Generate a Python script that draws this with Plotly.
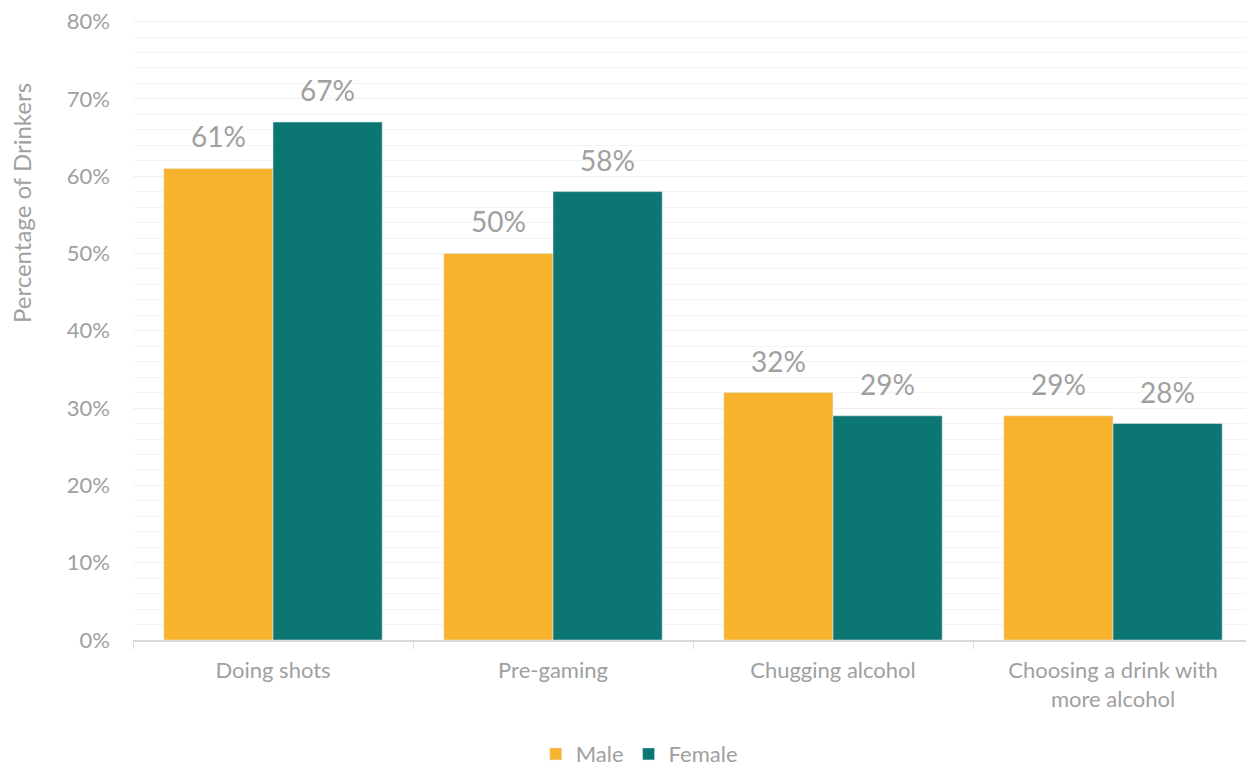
import plotly.graph_objects as go

categories = ["Doing shots", "Pre-gaming", "Chugging alcohol", "Choosing a drink with<br>more alcohol"]
male = [0.61, 0.50, 0.32, 0.29]
female = [0.67, 0.58, 0.29, 0.28]
male_labels = ["61%", "50%", "32%", "29%"]
female_labels = ["67%", "58%", "29%", "28%"]

GRAY = "#a0a0a0"
FONT = "Lato, 'Open Sans', sans-serif"
BARGAP = 0.22
PLOT_W = 1120

fig = go.Figure()
fig.add_trace(go.Bar(x=categories, y=male, name="Male", marker_color="#F7B32E"))
fig.add_trace(go.Bar(x=categories, y=female, name="Female", marker_color="#0C7673"))

# value labels above each bar, offset to the bar centre within the group
cat_px = PLOT_W / len(categories)
half_bar = cat_px * (1 - BARGAP) / 4
for labels, vals, sign in [(male_labels, male, -1), (female_labels, female, 1)]:
    for c, v, t in zip(categories, vals, labels):
        fig.add_annotation(x=c, y=v, text=t, showarrow=False, xanchor="center",
                           yanchor="bottom", xshift=sign * half_bar, yshift=13,
                           font=dict(size=28, color=GRAY, family=FONT))

# y-axis title (placed like the original, above the plot's vertical middle)
fig.add_annotation(text="Percentage of Drinkers", xref="paper", yref="paper",
                   x=-0.099, y=0.705, xanchor="center", yanchor="middle",
                   textangle=-90, showarrow=False,
                   font=dict(size=24, color=GRAY, family=FONT))

fig.update_layout(
    width=1246, height=760,
    margin=dict(l=125, r=1, t=12, b=128, autoexpand=False),
    paper_bgcolor="white", plot_bgcolor="white",
    barmode="group", bargap=BARGAP, bargroupgap=0,
    font=dict(family=FONT, color=GRAY, size=22),
    legend=dict(orientation="h", x=0.452, xanchor="center", y=-0.184, yanchor="middle",
                font=dict(size=22, color=GRAY), traceorder="normal", itemwidth=30),
)
fig.update_xaxes(
    automargin=False,
    showline=True, linecolor="#d9d9d9", linewidth=1.5,
    ticks="outside", tickson="boundaries", ticklen=7, tickcolor="#d9d9d9",
    tickfont=dict(size=22, color=GRAY), showgrid=False,
    ticklabelstandoff=10,
)
fig.update_yaxes(
    automargin=False,
    range=[0, 0.802], tickvals=[0, 0.1, 0.2, 0.3, 0.4, 0.5, 0.6, 0.7, 0.8], tickformat=".0%",
    showgrid=True, gridcolor="#f0f0f0", gridwidth=1,
    minor=dict(dtick=0.02, tick0=0, showgrid=True, gridcolor="#f4f4f4", gridwidth=1),
    zeroline=False, tickfont=dict(size=22, color=GRAY),
    ticklabelstandoff=22, ticklabeloverflow="allow",
)

fig.write_html("out.html")
